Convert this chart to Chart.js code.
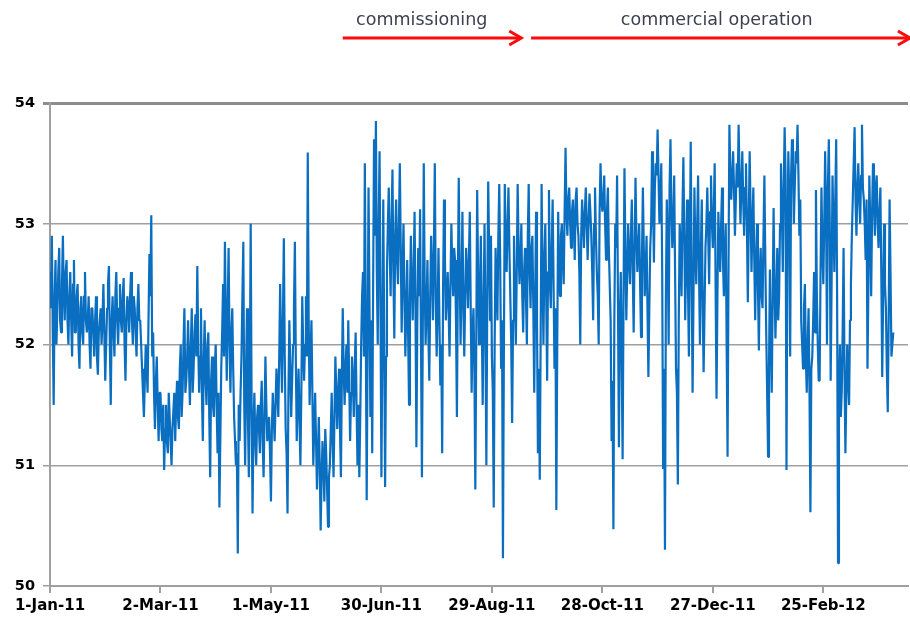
<!DOCTYPE html>
<html><head><meta charset="utf-8">
<script src="https://cdn.jsdelivr.net/npm/chart.js@4.4.0/dist/chart.umd.min.js"></script>
<style>html,body{margin:0;padding:0;background:#fff}#wrap{width:910px;height:621px;position:relative}</style>
</head><body><div id="wrap"><canvas id="c" width="910" height="621"></canvas></div>
<script>
// x tick labels, one every 60 days starting 1-Jan-11 (day 0)
const tickLabels = ['1-Jan-11','2-Mar-11','1-May-11','30-Jun-11','29-Aug-11','28-Oct-11','27-Dec-11','25-Feb-12'];
const tickStepDays = 60;
const yTicks = [50, 51, 52, 53, 54];

// readings at the start of each day (day 0 = 1-Jan-11)
const janMar2011 = [
 52.6,52.9,51.5,52.7,52.3,52.8,52.1,52.9,52.2,52.7,
 52.0,52.6,51.9,52.7,52.1,52.5,51.8,52.4,52.0,52.6,
 52.1,52.4,51.8,52.3,51.9,52.4,51.75,52.2,52.0,52.5,
 51.7,52.3,52.65,51.5,52.4,51.9,52.6,52.0,52.5,52.1,
 52.55,51.7,52.4,52.1,52.6,52.0,52.3,51.9,52.5,52.2,
 51.8,51.4,52.0,51.6,52.75,53.07,52.1,51.3,51.9,51.2,
 51.6,51.2,50.96,51.5,51.1,51.4,51.0,51.45,51.2,51.7,
 51.3,52.0,51.6,52.3,51.7,52.2,51.5,52.3,51.8,52.25,
 52.65,51.6,52.3,51.2,52.2,51.5,52.1,50.9,51.9,51.4
];
const aprJun2011 = [
 52.0,51.1,50.65,51.8,52.5,52.85,51.7,52.8,51.6,52.3,
 51.4,51.0,50.27,51.2,51.9,52.85,51.0,52.3,50.9,53.0,
 50.6,51.6,51.0,51.5,51.1,51.7,50.9,51.9,51.2,51.4,
 50.7,51.6,51.2,51.8,51.4,52.5,51.6,52.88,51.3,50.6,
 52.2,51.4,52.0,52.85,51.2,51.8,51.0,52.4,51.7,52.4,
 53.59,51.5,52.2,51.0,51.6,50.8,51.4,50.46,51.2,50.7,
 51.1,50.49,51.0,51.6,50.9,51.9,51.3,51.8,50.9,52.3,
 51.5,52.0,52.2,51.2,51.9,51.4,52.1,51.0,50.9,52.0,
 52.6,53.5,50.71,53.3,51.4,51.1,53.7,53.85,52.0,53.6
];
const julSep2011 = [
 50.9,53.2,50.82,52.6,53.3,52.4,53.45,52.05,53.2,52.5,
 53.5,52.1,53.0,51.9,52.7,51.5,52.9,52.2,53.1,51.15,
 52.8,53.12,50.9,53.5,52.0,52.7,51.7,52.9,52.2,53.5,
 51.9,52.8,51.66,51.1,53.2,52.2,52.6,51.9,53.0,52.4,
 52.7,51.4,53.38,52.0,53.1,51.9,52.8,52.3,53.1,51.6,
 52.3,50.8,53.28,52.0,52.9,51.5,53.0,51.0,53.35,52.2,
 51.9,50.65,52.8,52.2,53.33,51.8,50.23,53.33,52.6,53.3,
 52.4,51.35,52.9,52.0,53.33,52.5,53.0,52.1,52.8,52.0,
 53.33,52.3,52.9,51.6,53.1,51.1,50.88,53.33,52.0,53.0
];
const octDec2011 = [
 51.7,53.28,52.3,53.2,51.8,50.63,53.1,52.4,53.0,52.5,
 53.63,52.9,53.3,52.8,53.2,52.7,53.3,52.9,52.0,53.2,
 52.8,53.3,52.7,53.25,52.9,52.2,53.3,52.6,52.0,53.5,
 53.1,53.4,52.7,53.3,52.5,51.2,50.47,53.0,53.4,51.15,
 52.6,51.05,53.46,52.2,53.0,52.5,53.2,52.1,53.38,52.6,
 53.0,52.06,53.3,52.4,52.9,51.73,52.8,53.6,52.68,53.5,
 53.78,53.0,53.5,50.97,50.3,53.2,52.0,53.7,52.8,53.4,
 51.8,50.84,53.0,52.4,53.55,52.2,53.2,51.9,53.68,51.6,
 53.3,52.5,53.4,52.0,53.2,51.77,52.8,53.3,52.5,53.4
];
const janApr2012 = [
 52.8,53.5,51.55,53.1,52.6,53.3,52.4,53.0,51.07,53.82,
 53.2,53.6,52.9,53.5,53.82,53.0,53.6,52.9,53.5,52.35,
 53.6,52.6,53.3,52.2,53.0,51.95,52.8,52.3,53.4,52.1,
 51.07,52.62,51.6,53.13,52.05,52.8,52.4,53.5,52.6,53.8,
 50.96,53.6,51.9,53.7,53.0,53.6,53.82,52.9,52.2,51.8,
 52.5,51.6,52.3,50.61,51.9,52.6,53.28,52.0,51.7,53.3,
 52.5,53.6,52.0,53.7,51.7,53.4,52.6,53.7,50.19,52.0,
 51.6,52.8,51.1,52.0,51.5,52.5,53.2,53.8,52.9,53.5,
 53.0,53.82,53.2,52.7,51.8,53.4,52.4,53.5,52.9,53.4,
 52.8,53.3,51.73,53.0,52.3,51.44,53.2,51.9,52.1
];

// readings at mid-day (day + 0.5)
const janMar2011Mid = [
 52.3,52.1,52.4,52.0,52.6,52.2,52.5,52.4,52.6,52.2,
 52.4,52.2,52.5,52.1,52.4,52.0,52.3,52.1,52.4,52.2,
 52.2,52.0,52.3,52.1,52.2,51.9,52.1,52.3,52.2,52.1,
 52.0,52.5,52.0,52.2,52.1,52.4,52.2,52.3,52.2,52.4,
 52.0,52.2,52.3,52.4,52.2,52.4,52.1,52.3,52.2,52.0,
 51.6,51.7,51.8,52.2,52.4,51.9,51.6,51.7,51.5,51.6,
 51.3,51.5,51.3,51.2,51.6,51.2,51.3,51.6,51.5,51.4,
 51.8,51.4,52.0,51.6,51.9,51.8,52.0,51.6,52.1,51.9,
 52.0,51.9,51.6,51.9,51.7,52.0,51.4,51.7,51.5,51.8
];
const aprJun2011Mid = [
 51.5,51.6,51.2,52.1,51.9,52.2,52.3,52.0,52.1,51.8,
 51.2,51.1,51.5,51.6,52.4,51.5,51.8,51.4,51.7,51.5,
 51.3,51.2,51.4,51.3,51.5,51.2,51.4,51.5,51.3,51.1,
 51.3,51.4,51.5,51.6,51.9,52.0,52.2,51.9,51.1,51.6,
 51.8,51.7,52.3,51.9,51.5,51.4,51.6,52.0,52.0,51.9,
 52.2,51.9,51.6,51.3,51.2,51.1,51.0,50.9,51.0,51.3,
 50.8,50.9,51.3,51.2,51.4,51.6,51.6,51.3,51.7,51.8,
 51.8,51.6,51.7,51.6,51.7,51.8,51.5,51.5,51.4,52.4,
 51.9,52.2,52.0,52.4,52.2,52.5,52.9,52.6,53.0,52.3
];
const julSep2011Mid = [
 52.0,52.1,51.9,53.0,52.8,53.0,52.6,52.9,52.7,53.0,
 52.8,52.6,52.4,52.3,52.1,52.4,52.5,52.6,52.3,52.2,
 52.4,52.0,52.2,52.5,52.3,52.1,52.4,52.6,52.8,52.4,
 52.3,52.2,52.0,52.5,52.7,52.4,52.3,52.5,52.6,52.8,
 52.2,52.5,52.6,52.5,52.3,52.4,52.6,52.7,52.3,52.1,
 51.8,52.0,52.6,52.4,52.2,52.3,52.1,52.4,52.8,52.9,
 51.6,52.0,52.5,52.9,52.7,52.2,51.9,52.8,53.0,52.8,
 52.0,52.2,52.4,52.6,52.8,52.7,52.4,52.6,52.4,52.9,
 52.6,52.8,52.3,52.4,52.2,51.8,52.1,52.6,52.7,52.4
];
const octDec2011Mid = [
 52.6,52.5,52.8,52.5,52.3,52.0,52.6,52.9,52.7,53.1,
 53.1,53.2,53.0,53.1,53.0,53.2,53.0,52.6,52.9,53.0,
 53.1,53.0,53.0,53.1,52.6,53.0,52.9,52.4,53.1,53.2,
 53.2,53.0,53.1,52.8,52.2,51.7,52.2,52.8,52.3,52.2,
 51.9,52.4,52.8,52.6,52.7,52.9,52.6,52.8,52.9,52.8,
 52.5,52.7,52.8,52.6,52.3,52.3,53.0,53.2,53.3,53.4,
 53.4,53.2,52.6,51.8,52.4,52.8,53.3,53.1,53.0,52.6,
 51.6,52.2,52.8,53.1,52.9,52.7,52.5,52.8,52.6,52.4,
 52.8,53.0,52.6,52.8,52.3,52.3,53.0,52.9,53.1,53.0
];
const janApr2012Mid = [
 53.1,52.5,52.4,52.8,53.0,52.7,52.8,52.0,52.6,53.4,
 53.4,53.3,53.2,53.3,53.4,53.3,53.2,53.3,53.0,53.0,
 53.1,53.0,52.7,52.7,52.5,52.6,52.4,52.9,52.7,51.6,
 51.8,52.0,52.4,52.5,52.4,52.2,53.0,53.1,53.3,53.4,
 52.8,53.2,53.4,53.5,53.3,53.5,53.4,53.2,52.0,52.3,
 51.9,52.0,51.6,51.8,52.2,52.1,52.4,51.7,52.6,52.8,
 53.0,53.1,53.3,53.0,52.5,53.0,53.2,52.4,51.6,51.4,
 52.1,51.8,51.6,51.7,52.2,52.9,53.5,53.2,53.3,53.2,
 53.4,53.3,53.0,53.2,52.5,53.0,53.1,53.2,53.3,53.0,
 53.1,52.6,52.4,52.5,51.8,52.2,52.6,52.0
];

// phase annotations (in days since 1-Jan-11)
const phaseNames = ['commissioning', 'commercial operation'];
const phaseStartDay = [159, 261.3];
const phaseEndDay = [256.5, 467.6];
const phaseTextDay = [201.9, 362.1];

const values = [].concat(janMar2011, aprJun2011, julSep2011, octDec2011, janApr2012);
const midValues = [].concat(janMar2011Mid, aprJun2011Mid, julSep2011Mid, octDec2011Mid, janApr2012Mid);
const points = [];
values.forEach((v, i) => {
  points.push({x: i, y: v});
  if (i < midValues.length) points.push({x: i + 0.5, y: midValues[i]});
});

const phasePlugin = {
  id: 'phases',
  afterDraw(chart) {
    const ctx = chart.ctx, xs = chart.scales.x;
    ctx.save();
    const yArrow = 38;
    for (let i = 0; i < phaseNames.length; i++) {
      const x0 = xs.getPixelForValue(phaseStartDay[i]);
      const x1 = xs.getPixelForValue(phaseEndDay[i]);
      ctx.strokeStyle = '#ff0a0a';
      ctx.lineWidth = 3;
      ctx.lineCap = 'butt';
      ctx.beginPath();
      ctx.moveTo(x0, yArrow); ctx.lineTo(x1 - 1, yArrow);
      ctx.stroke();
      ctx.lineJoin = 'miter';
      ctx.beginPath();
      ctx.moveTo(x1 - 13, yArrow - 7); ctx.lineTo(x1 - 1, yArrow); ctx.lineTo(x1 - 13, yArrow + 7);
      ctx.stroke();
      ctx.fillStyle = '#3d4050';
      ctx.font = '17.5px "DejaVu Sans"';
      ctx.textAlign = 'center';
      ctx.textBaseline = 'alphabetic';
      ctx.fillText(phaseNames[i], xs.getPixelForValue(phaseTextDay[i]), 24.5);
    }
    ctx.restore();
  }
};

new Chart(document.getElementById('c'), {
  type: 'line',
  data: { datasets: [{
    data: points,
    borderColor: '#0b6fc1',
    borderWidth: 2.2,
    borderJoinStyle: 'bevel',
    pointRadius: 0,
    tension: 0,
    fill: false
  }]},
  options: {
    responsive: false,
    animation: false,
    events: [],
    layout: { padding: { top: 103, right: 2, left: 0, bottom: 0 } },
    plugins: { legend: { display: false }, tooltip: { enabled: false } },
    scales: {
      x: {
        type: 'linear', min: 0, max: 466,
        afterBuildTicks(scale) { scale.ticks = tickLabels.map((_, i) => ({ value: i * tickStepDays })); },
        afterFit(scale) { scale.height = 35; },
        ticks: {
          autoSkip: false, maxRotation: 0, minRotation: 0, padding: 4,
          color: '#000', font: { family: 'DejaVu Sans', weight: 'bold', size: 15 },
          callback: (v) => tickLabels[Math.round(v / tickStepDays)]
        },
        grid: { drawOnChartArea: false, drawTicks: true, tickLength: 7, color: '#a0a0a0', lineWidth: 2 },
        border: { display: true, color: '#a0a0a0', width: 2 }
      },
      y: {
        min: 50, max: 54,
        afterBuildTicks(scale) { scale.ticks = yTicks.map(v => ({ value: v })); },
        afterFit(scale) { scale.width = 50; },
        ticks: {
          padding: 8, color: '#000',
          font: { family: 'DejaVu Sans', weight: 'bold', size: 14.5 }
        },
        grid: {
          color: (c) => c.tick && c.tick.value === 54 ? '#8c8c8c' : '#a0a0a0',
          lineWidth: (c) => c.tick && c.tick.value === 54 ? 3 : 1.5,
          tickLength: 7
        },
        border: { display: true, color: '#a0a0a0', width: 2 }
      }
    }
  },
  plugins: [phasePlugin]
});
</script>
</body></html>
